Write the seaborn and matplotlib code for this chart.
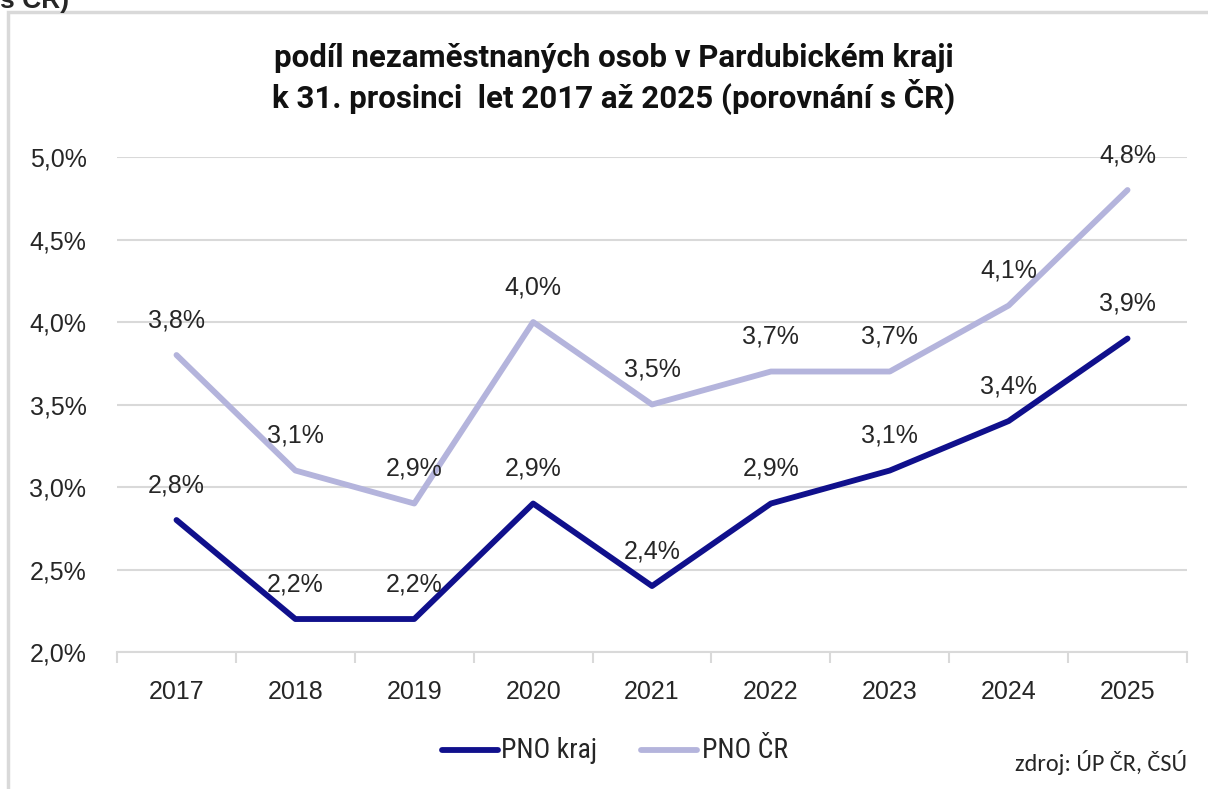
import pandas as pd
import seaborn as sns
import matplotlib.pyplot as plt
from matplotlib import font_manager
from matplotlib.patches import Rectangle

years = ["2017", "2018", "2019", "2020", "2021", "2022", "2023", "2024", "2025"]
pno_kraj = [2.8, 2.2, 2.2, 2.9, 2.4, 2.9, 3.1, 3.4, 3.9]
pno_cr = [3.8, 3.1, 2.9, 4.0, 3.5, 3.7, 3.7, 4.1, 4.8]
y_ticks = [2.0, 2.5, 3.0, 3.5, 4.0, 4.5, 5.0]

df = pd.DataFrame({
    "rok": years * 2,
    "hodnota": pno_kraj + pno_cr,
    "serie": ["PNO kraj"] * len(years) + ["PNO ČR"] * len(years),
})

fonts = font_manager.fontManager.ttflist


def pick(*names, min_weight=0):
    for n in names:
        for f in fonts:
            w = f.weight if isinstance(f.weight, int) else 400
            if f.name == n and w >= min_weight:
                return [n, "DejaVu Sans"]
    return ["DejaVu Sans"]


f_main = pick("Liberation Sans", "Arimo")
f_title = pick("Roboto", "Liberation Sans", min_weight=700)
f_leg = pick("Roboto Condensed", "Barlow Semi Condensed", "Sofia Sans Semi Condensed",
             "Archivo Narrow", "Liberation Sans Narrow")
f_src = pick("Carlito", "Lato", "Open Sans")

sns.set_style("white")
plt.rcParams["font.family"] = f_main

fig = plt.figure(figsize=(12.08, 7.89), dpi=100)
ax = fig.add_axes([0.0969, 0.1736, 0.8857, 0.6274])

colors = {"PNO kraj": "#10108c", "PNO ČR": "#b4b4dc"}
sns.lineplot(data=df, x="rok", y="hodnota", hue="serie", palette=colors,
             hue_order=["PNO ČR", "PNO kraj"], linewidth=4.2, ax=ax,
             legend=False, zorder=3)
for ln in ax.get_lines():
    ln.set_solid_capstyle("round")

# popisky hodnot
for vals in (pno_kraj, pno_cr):
    for i, v in enumerate(vals):
        ax.annotate(f"{v:.1f}%".replace(".", ","), (i, v), xytext=(0, 25),
                    textcoords="offset points", ha="center", va="center",
                    fontsize=18, color="#262626", zorder=4)

ax.set_xlim(-0.5, len(years) - 0.5)
ax.set_ylim(2.0, 5.0)
ax.set_yticks(y_ticks)
ax.set_yticklabels([f"{t:.1f}%".replace(".", ",") for t in y_ticks])
ax.grid(axis="y", color="#d9d9d9", linewidth=1.5, zorder=0)
ax.set_axisbelow(True)
for s in ["top", "right", "left"]:
    ax.spines[s].set_visible(False)
ax.spines["bottom"].set_color("#d9d9d9")
ax.spines["bottom"].set_linewidth(1.5)
ax.set_xticks([x - 0.5 for x in range(len(years) + 1)], minor=True)
ax.tick_params(axis="x", which="minor", length=8, width=1.5, color="#d9d9d9",
               direction="out", bottom=True)
ax.tick_params(axis="x", which="major", length=0, pad=20, labelsize=18,
               labelcolor="#262626")
ax.tick_params(axis="y", length=0, pad=22, labelsize=18, labelcolor="#262626")
ax.set_xlabel("")
ax.set_ylabel("")

fig.text(0.508, 0.9, "podíl nezaměstnaných osob v Pardubickém kraji\n"
         "k 31. prosinci  let 2017 až 2025 (porovnání s ČR)",
         ha="center", va="center", fontsize=22.5, fontweight="bold",
         family=f_title, linespacing=1.2, color="#111111")

# legenda
fig.add_artist(plt.Line2D([0.366, 0.412], [0.049, 0.049], color=colors["PNO kraj"],
                          linewidth=4.2, solid_capstyle="round"))
fig.text(0.415, 0.049, "PNO kraj", ha="left", va="center", fontsize=20,
         family=f_leg)
fig.add_artist(plt.Line2D([0.531, 0.577], [0.049, 0.049], color=colors["PNO ČR"],
                          linewidth=4.2, solid_capstyle="round"))
fig.text(0.581, 0.049, "PNO ČR", ha="left", va="center", fontsize=20,
         family=f_leg)

fig.text(0.983, 0.033, "zdroj: ÚP ČR, ČSÚ", ha="right", va="center",
         fontsize=17.5, family=f_src)

# ramecek a oriznuty text nahore
fig.add_artist(Rectangle((8 / 1208, -0.1), 1.2, 1 - 12 / 789 + 0.1,
                         transform=fig.transFigure, fill=False,
                         edgecolor="#d9d9d9", linewidth=2.5))
fig.text(0.0, 1 - 8 / 789, "s ČR)", ha="left", va="baseline", fontsize=19,
         fontweight="bold")

fig.savefig("out.png", dpi=100)
